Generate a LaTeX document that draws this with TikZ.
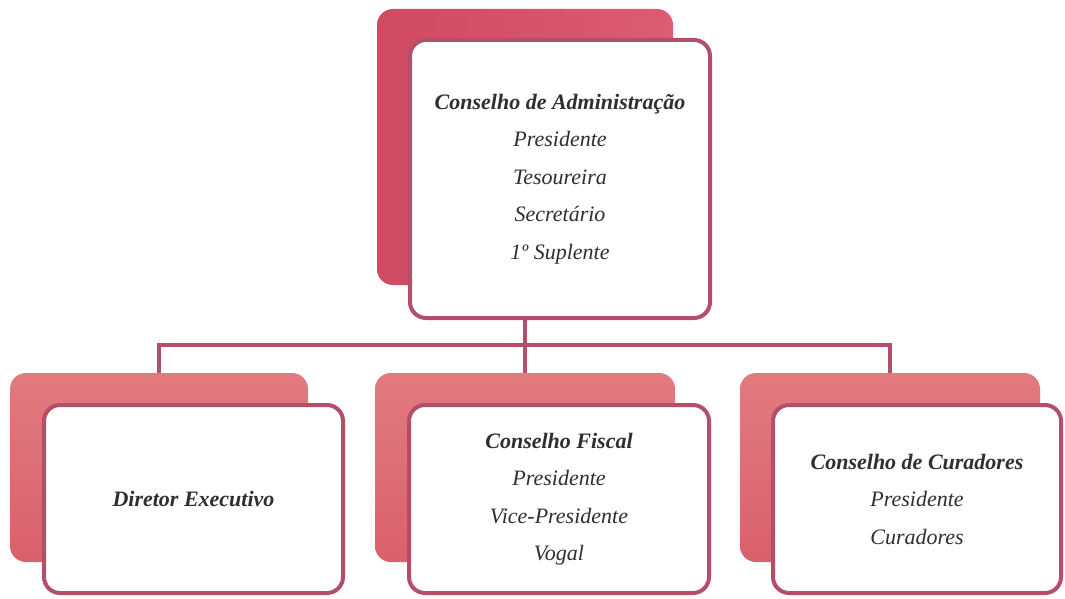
\documentclass[tikz,border=0pt]{standalone}
\usepackage{fontspec}
\setmainfont{Liberation Serif}
\begin{document}
\begin{tikzpicture}[x=1pt,y=-1pt,
  backbox/.style={rectangle,rounded corners=16pt,draw=none,inner sep=0pt},
  topback/.style={backbox,left color=backdark,right color=backmid},
  kidback/.style={backbox,top color=kidlight,bottom color=kiddark},
  frontbox/.style={rectangle,rounded corners=16pt,draw=frontline,line width=4pt,fill=white,inner sep=0pt,
    align=center,text=txt,font={\fontsize{22}{37.5}\selectfont\itshape}},
  conn/.style={draw=frontline,line width=4pt,line cap=butt,line join=miter}]
\definecolor{backdark}{HTML}{CF4A63}
\definecolor{backmid}{HTML}{DC5C72}
\definecolor{kidlight}{HTML}{E27A80}
\definecolor{kiddark}{HTML}{D9606C}
\definecolor{frontline}{HTML}{B2506A}
\definecolor{txt}{HTML}{2E2E33}
\useasboundingbox (0,0) rectangle (1065,599);
\fill[white] (0,0) rectangle (1065,599);
% back boxes
\node[topback,minimum width=296pt,minimum height=276pt] (topb) at (525,147) {};
\node[kidback,minimum width=298pt,minimum height=189pt] (leftb) at (159,467.5) {};
\node[kidback,minimum width=300pt,minimum height=189pt] (midb) at (525,467.5) {};
\node[kidback,minimum width=300pt,minimum height=189pt] (rightb) at (890,467.5) {};
% connectors
\coordinate (bus) at (525,345);
\draw[conn] (topb.center |- 0,318) -- (midb.north);
\draw[conn] (leftb.north) -- (leftb.north |- bus) -- (rightb.north |- bus) -- (rightb.north);
% front boxes
\node[frontbox,minimum width=300pt,minimum height=278pt] (topf) at (560,179)
  {\textbf{Conselho de Administração}\\Presidente\\Tesoureira\\Secretário\\1º Suplente};
\node[frontbox,minimum width=299pt,minimum height=188pt] (leftf) at (193.5,499)
  {\textbf{Diretor Executivo}};
\node[frontbox,minimum width=300pt,minimum height=188pt] (midf) at (559,499)
  {\textbf{Conselho Fiscal}\\Presidente\\Vice-Presidente\\Vogal};
\node[frontbox,minimum width=288pt,minimum height=188pt] (rightf) at (917,499)
  {\textbf{Conselho de Curadores}\\Presidente\\Curadores};
\end{tikzpicture}
\end{document}
